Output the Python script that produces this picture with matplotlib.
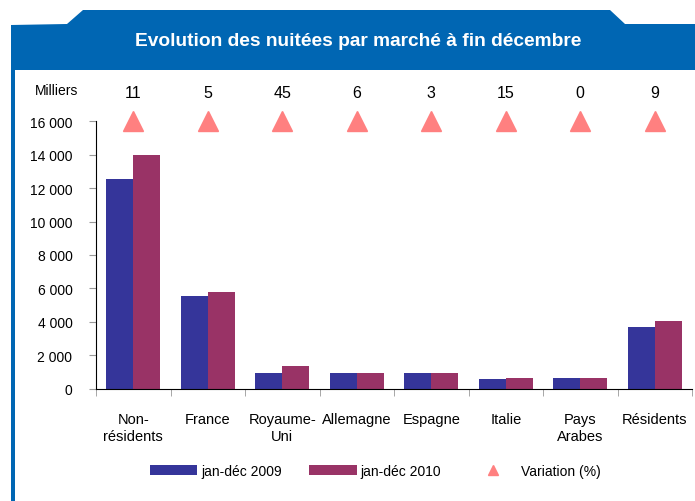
import numpy as np
import matplotlib
matplotlib.use('Agg')
from matplotlib import pyplot as plt
from matplotlib.patches import Polygon, Rectangle
import matplotlib.transforms as mtransforms

# data (thousands of nights)
categories = ['Non-\nrésidents', 'France', 'Royaume-\nUni', 'Allemagne',
              'Espagne', 'Italie', 'Pays\nArabes', 'Résidents']
nuitees_2009 = [12550, 5560, 920, 920, 920, 540, 620, 3680]
nuitees_2010 = [13980, 5800, 1340, 920, 920, 610, 620, 4060]
variation = [11, 5, 45, 6, 3, 15, 0, 9]
y_ticks = [0, 2000, 4000, 6000, 8000, 10000, 12000, 14000, 16000]

c2009 = '#35359A'
c2010 = '#993366'
ctri = '#FF8080'
blue = '#0066B3'

plt.rcParams['font.family'] = ['Liberation Sans', 'DejaVu Sans']
narrow = ['Liberation Sans Narrow', 'Liberation Sans', 'DejaVu Sans']

W, H = 695, 502
fig = plt.figure(figsize=(W / 100, H / 100), dpi=100)


def px(x, y):
    return (x / W, 1 - y / H)


# blue header banner + left border
banner = [px(11, 71), px(11, 26), px(67, 25), px(83, 11), px(610, 11),
          px(625, 25), px(695, 25), px(695, 71)]
fig.patches.append(Polygon(banner, closed=True, transform=fig.transFigure,
                           facecolor=blue, edgecolor='none', zorder=0))
x0, y0 = px(11, 502)
fig.patches.append(Rectangle((x0, y0), 4 / W, (502 - 71) / H, transform=fig.transFigure,
                             facecolor=blue, edgecolor='none', zorder=0))
fig.text(358 / W, 1 - 42 / H, 'Evolution des nuitées par marché à fin décembre',
         color='white', fontsize=13.8, fontweight='bold', ha='center', va='center')

ax = fig.add_axes([96 / W, 1 - 389.5 / H, 596 / W, 267.2 / H])
x = np.arange(len(categories))
w = 0.36
b1 = ax.bar(x - w / 2, nuitees_2009, width=w, color=c2009, label='jan-déc 2009')
b2 = ax.bar(x + w / 2, nuitees_2010, width=w, color=c2010, label='jan-déc 2010')
tri, = ax.plot(x, [16000] * len(x), linestyle='none', marker='^', markersize=15,
               color=ctri, clip_on=False, label='Variation (%)')
trans = mtransforms.blended_transform_factory(ax.transData, fig.transFigure)
for xi, v in zip(x, variation):
    ax.text(xi, 1 - 93 / H, str(v), transform=trans, fontsize=11.5,
            ha='center', va='center')

ax.set_xlim(-0.5, len(categories) - 0.5)
ax.set_ylim(0, 16000)
ax.set_yticks(y_ticks)
ax.set_yticklabels(['{:,}'.format(v).replace(',', ' ') for v in y_ticks], fontsize=10)
ax.set_xticks(x)
ax.set_xticklabels(categories, fontsize=10.5, va='top', linespacing=1.25, family=narrow)
ax.set_xticks(np.arange(-0.5, len(categories)), minor=True)
ax.tick_params(axis='x', which='major', length=0, pad=17)
ax.tick_params(axis='x', which='minor', length=5, color='#999999', direction='out')
ax.tick_params(axis='y', length=5, color='#999999', pad=12)
for s in ['top', 'right']:
    ax.spines[s].set_visible(False)

fig.text(57 / W, 1 - 91 / H, 'Milliers', fontsize=10, ha='center', va='center')

fig.legend([b1, b2, tri], ['jan-déc 2009', 'jan-déc 2010', 'Variation (%)'],
           loc='center', bbox_to_anchor=(375 / W, 1 - 472 / H), ncol=3, frameon=False,
           prop={'family': narrow, 'size': 10}, handlelength=3.4, handleheight=0.75,
           columnspacing=2.0, handletextpad=0.3, markerscale=0.5)

fig.savefig('out.png', dpi=100)
